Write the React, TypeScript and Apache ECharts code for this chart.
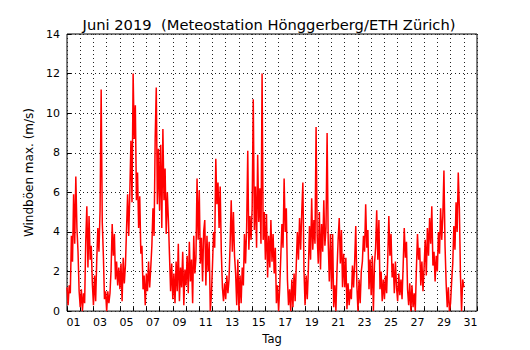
import React, { useEffect, useRef } from "react";
import * as echarts from "echarts";

// Tag labels (day of month)
const dayLabels: string[] = Array.from({ length: 31 }, (_, i) => String(i + 1).padStart(2, "0"));

// time step between samples, in days (2 hours)
const stepDays = 1 / 12;

// max gust (m/s), 2-hourly, day by day
const d01 = [1.2, 0.3, 1.3, 0.9, 3.8, 2.5, 5.9, 3.4, 6.8, 4.2, 3.0, 1.0];
const d02 = [0.2, 1.1, 0.0, 0.9, 0.4, 3.5, 5.3, 2.2, 4.8, 2.6, 3.3, 1.4];
const d03 = [0.3, 1.8, 0.5, 2.6, 4.2, 3.0, 5.1, 11.2, 4.5, 2.8, 0.6, 1.0];
const d04 = [0.0, 1.0, 0.4, 0.9, 2.1, 4.4, 2.8, 3.9, 1.6, 2.5, 1.3, 2.2];
const d05 = [1.1, 2.4, 0.5, 2.7, 1.4, 2.3, 4.1, 5.9, 3.8, 6.0, 8.6, 5.5];
const d06 = [12.0, 8.7, 10.4, 5.6, 7.0, 4.2, 5.8, 2.9, 3.3, 1.1, 1.8, 0.3];
const d07 = [1.9, 1.0, 2.5, 1.2, 2.2, 3.3, 5.2, 3.8, 8.7, 11.3, 5.4, 8.2];
const d08 = [5.1, 8.4, 4.2, 9.2, 5.6, 7.2, 3.9, 6.0, 4.6, 2.8, 1.0, 2.4];
const d09 = [0.6, 1.9, 0.4, 2.5, 1.0, 3.4, 0.5, 2.2, 1.2, 3.0, 0.3, 2.1];
const d10 = [1.3, 2.8, 0.9, 3.5, 1.5, 2.6, 0.4, 3.8, 1.9, 2.7, 6.7, 3.6];
const d11 = [6.1, 2.4, 3.7, 1.5, 4.0, 4.6, 1.3, 3.8, 2.0, 3.5, 0.0, 0.8];
const d12 = [2.3, 4.0, 3.2, 7.7, 5.4, 6.5, 4.2, 6.3, 3.0, 1.2, 0.5, 1.4];
const d13 = [0.6, 1.8, 0.9, 1.6, 3.4, 5.6, 3.0, 5.0, 2.8, 1.9, 0.3, 2.6];
const d14 = [0.0, 1.8, 0.4, 2.2, 1.3, 3.9, 2.4, 4.2, 8.1, 3.1, 4.8, 3.6];
const d15 = [5.2, 10.7, 4.1, 6.3, 3.2, 7.9, 4.5, 6.2, 3.4, 12.0, 3.6, 5.0];
const d16 = [2.6, 4.9, 1.7, 3.8, 2.2, 4.6, 2.5, 3.9, 1.9, 3.2, 0.4, 1.3];
const d17 = [0.0, 1.2, 2.8, 4.4, 3.2, 6.7, 4.0, 5.2, 1.6, 0.3, 1.1, 0.0];
const d18 = [1.6, 0.2, 1.9, 0.5, 2.3, 4.0, 2.6, 4.7, 3.1, 5.0, 6.5, 2.1];
const d19 = [0.3, 1.8, 0.6, 2.1, 4.3, 2.6, 5.7, 3.1, 4.6, 3.4, 9.3, 3.8];
const d20 = [2.4, 5.0, 2.1, 4.4, 3.0, 5.6, 3.3, 4.2, 9.0, 3.5, 1.5, 3.9];
const d21 = [1.1, 3.9, 0.2, 1.3, 0.0, 2.1, 3.6, 4.7, 2.4, 4.1, 1.2, 2.9];
const d22 = [1.2, 2.7, 0.1, 1.4, 0.3, 1.1, 0.6, 2.3, 1.2, 2.5, 4.3, 1.3];
const d23 = [0.0, 1.6, 0.4, 2.0, 2.5, 3.8, 3.0, 5.4, 3.2, 4.1, 1.1, 2.6];
const d24 = [0.8, 2.8, 0.0, 2.4, 3.2, 5.1, 2.6, 4.6, 1.1, 2.0, 0.5, 1.6];
const d25 = [0.6, 1.8, 0.9, 2.6, 4.8, 2.8, 3.9, 1.7, 2.4, 0.9, 2.5, 1.2];
const d26 = [0.5, 1.9, 0.8, 1.6, 0.6, 2.3, 4.2, 2.7, 3.5, 1.1, 0.3, 1.4];
const d27 = [0.0, 1.3, 0.2, 0.9, 0.0, 2.1, 3.9, 2.6, 3.2, 1.3, 2.5, 1.0];
const d28 = [2.2, 3.6, 1.8, 4.2, 2.8, 4.7, 3.4, 5.3, 2.3, 3.0, 1.5, 2.8];
const d29 = [2.0, 4.0, 2.9, 5.2, 3.6, 4.8, 7.1, 3.3, 1.4, 0.2, 1.2, 0.0];
const d30 = [0.4, 1.5, 2.4, 4.3, 3.1, 5.5, 4.0, 7.0, 5.2, 1.8, 0.0, 1.6];
const lastValue = [1.2];

const gusts: number[] = [
  ...d01, ...d02, ...d03, ...d04, ...d05, ...d06, ...d07, ...d08, ...d09, ...d10,
  ...d11, ...d12, ...d13, ...d14, ...d15, ...d16, ...d17, ...d18, ...d19, ...d20,
  ...d21, ...d22, ...d23, ...d24, ...d25, ...d26, ...d27, ...d28, ...d29, ...d30,
  ...lastValue,
];

const yTicks = { min: 0, max: 14, interval: 2 };

const FONT = "DejaVu Sans";

export default function App() {
  const ref = useRef<HTMLDivElement>(null);
  useEffect(() => {
    if (!ref.current) return;
    const chart = echarts.init(ref.current, undefined, { renderer: "svg" });
    const points = gusts.map((v, i) => [i * stepDays, v]);
    const dotted = { color: "#222", width: 1, type: [1, 3] as number[] };
    chart.setOption({
      animation: false,
      backgroundColor: "#fff",
      textStyle: { fontFamily: FONT },
      title: {
        text: "Juni 2019  (Meteostation Hönggerberg/ETH Zürich)",
        left: 264,
        textAlign: "center",
        top: 12,
        textStyle: { fontFamily: FONT, fontSize: 14.7, fontWeight: "normal", color: "#000" },
      },
      grid: {
        left: 67,
        right: 53,
        top: 34,
        bottom: 35,
        show: true,
        borderColor: "#000",
        borderWidth: 1,
        backgroundColor: "transparent",
      },
      xAxis: [
        {
          type: "value",
          min: 0,
          max: 31,
          show: false,
        },
        {
          type: "category",
          data: dayLabels,
          boundaryGap: true,
          position: "bottom",
          name: "Tag",
          nameLocation: "middle",
          nameGap: 21,
          nameTextStyle: { fontFamily: FONT, fontSize: 11.5, color: "#000" },
          axisLine: { show: false },
          axisTick: { show: true, inside: true, length: 4, interval: 0, lineStyle: { color: "#000" } },
          axisLabel: { interval: 1, fontFamily: FONT, fontSize: 11, color: "#000", margin: 6 },
          splitLine: { show: true, interval: 0, lineStyle: dotted },
        },
      ],
      yAxis: {
        type: "value",
        min: yTicks.min,
        max: yTicks.max,
        interval: yTicks.interval,
        name: "Windböen max. (m/s)",
        nameLocation: "middle",
        nameGap: 29,
        nameTextStyle: { fontFamily: FONT, fontSize: 12, color: "#000" },
        axisLine: { show: false },
        axisTick: { show: true, inside: true, length: 4, lineStyle: { color: "#000" } },
        axisLabel: { fontFamily: FONT, fontSize: 11, color: "#000", margin: 7 },
        splitLine: { show: true, lineStyle: dotted },
      },
      series: [
        {
          type: "line",
          xAxisIndex: 0,
          data: points,
          symbol: "none",
          lineStyle: { color: "#ff0000", width: 1.5 },
          z: 5,
        },
      ],
    });
    return () => chart.dispose();
  }, []);
  return (
    <div
      ref={ref}
      style={{ position: "absolute", left: 0, top: 0, width: 530, height: 350 }}
    />
  );
}
